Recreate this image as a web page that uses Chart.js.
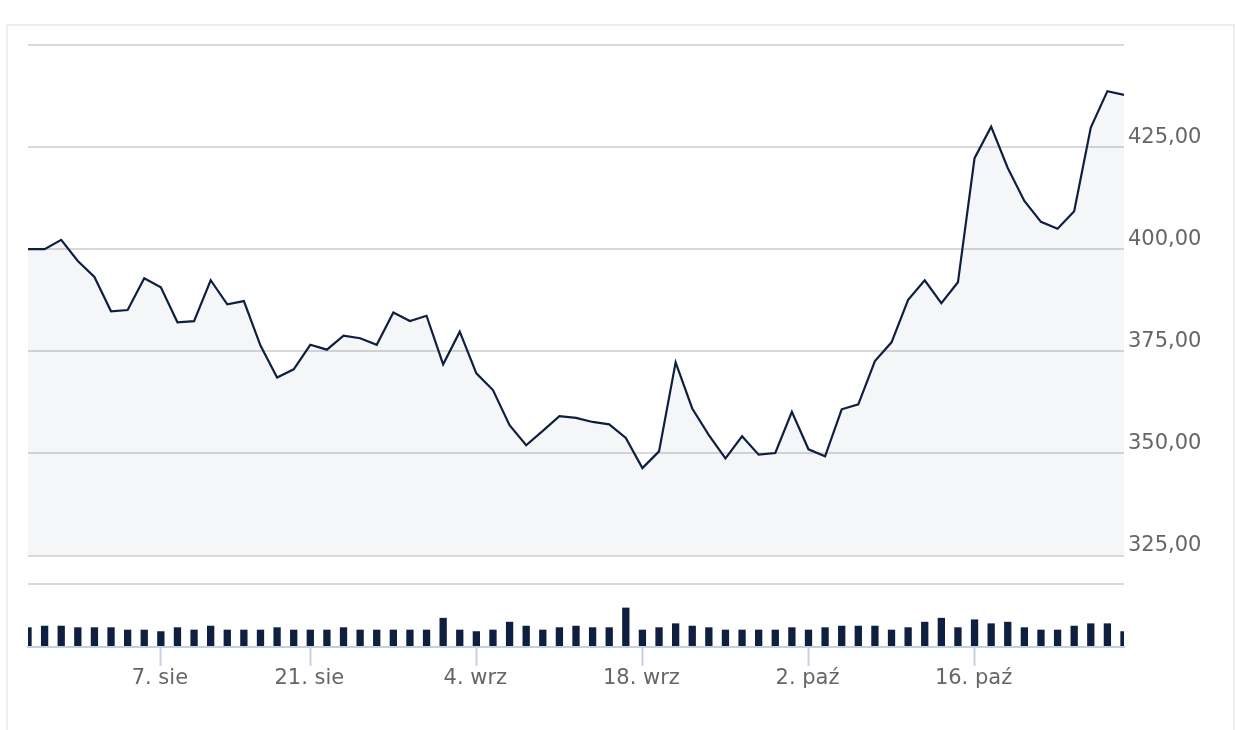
<!DOCTYPE html>
<html>
<head>
<meta charset="utf-8">
<script src="https://cdn.jsdelivr.net/npm/chart.js@4/dist/chart.umd.min.js"></script>
<style>
html,body{margin:0;padding:0;background:#fff;width:1236px;height:730px;overflow:hidden;}
#frame{position:absolute;left:6px;top:24px;width:1225px;height:720px;border:2px solid #eeeeee;}
#pw{position:absolute;left:0;top:0;width:1236px;height:570px;}
#vw{position:absolute;left:0;top:570px;width:1236px;height:160px;}
</style>
</head>
<body>
<div id="frame"></div>
<div id="pw"><canvas id="price"></canvas></div>
<div id="vw"><canvas id="vol"></canvas></div>
<script>
const dates = [
  '2023-07-26','2023-07-27','2023-07-28','2023-07-31',
  '2023-08-01','2023-08-02','2023-08-03','2023-08-04',
  '2023-08-07','2023-08-08','2023-08-09','2023-08-10','2023-08-11',
  '2023-08-14','2023-08-16','2023-08-17','2023-08-18',
  '2023-08-21','2023-08-22','2023-08-23','2023-08-24','2023-08-25',
  '2023-08-28','2023-08-29','2023-08-30','2023-08-31','2023-09-01',
  '2023-09-04','2023-09-05','2023-09-06','2023-09-07','2023-09-08',
  '2023-09-11','2023-09-12','2023-09-13','2023-09-14','2023-09-15',
  '2023-09-18','2023-09-19','2023-09-20','2023-09-21','2023-09-22',
  '2023-09-25','2023-09-26','2023-09-27','2023-09-28','2023-09-29',
  '2023-10-02','2023-10-03','2023-10-04','2023-10-05','2023-10-06',
  '2023-10-09','2023-10-10','2023-10-11','2023-10-12','2023-10-13',
  '2023-10-16','2023-10-17','2023-10-18','2023-10-19','2023-10-20',
  '2023-10-23','2023-10-24','2023-10-25','2023-10-26','2023-10-27'
];
const prices = [
  400.0, 400.0, 402.3, 397.1, 393.2, 384.8, 385.1, 392.9, 390.7, 382.1,
  382.4, 392.4, 386.5, 387.3, 376.4, 368.6, 370.6, 376.6, 375.4, 378.8,
  378.2, 376.6, 384.5, 382.4, 383.7, 371.8, 379.8, 369.6, 365.5, 356.9,
  352.0, 355.5, 359.1, 358.7, 357.7, 357.1, 353.8, 346.4, 350.5, 372.3,
  361.0, 354.5, 348.8, 354.2, 349.7, 350.1, 360.2, 351.0, 349.3, 360.8,
  362.0, 372.6, 377.2, 387.6, 392.4, 386.8, 391.9, 422.3, 430.0, 419.9,
  411.8, 406.7, 405.0, 409.3, 429.8, 438.7, 437.8
];
const volumes = [
  25, 27, 27, 25, 25, 25, 22, 22, 20, 25,
  22, 27, 22, 22, 22, 25, 22, 22, 22, 25,
  22, 22, 22, 22, 22, 37, 22, 20, 22, 32,
  27, 22, 25, 27, 25, 25, 50, 22, 25, 30,
  27, 25, 22, 22, 22, 22, 25, 22, 25, 27,
  27, 27, 22, 25, 32, 37, 25, 35, 30, 32,
  25, 22, 22, 27, 30, 30, 20
];
const tickDates = ['2023-08-07','2023-08-21','2023-09-04','2023-09-18','2023-10-02','2023-10-16'];
const tickTexts = ['7. sie','21. sie','4. wrz','18. wrz','2. paź','16. paź'];
const priceMin = 325, priceMax = 450, priceStep = 25;
const volMax = 80;

const NAVY = '#0e1f40';
const GRID = '#d9d9d9';
const AXIS = '#c4cfe2';
const TEXT = '#666666';
const FONT = {family: "'DejaVu Sans', sans-serif", size: 21, lineHeight: 1};

function labelFor(i) {
  const k = tickDates.indexOf(dates[i]);
  return k >= 0 ? tickTexts[k] : '';
}

new Chart(document.getElementById('price'), {
  type: 'line',
  data: {
    labels: dates,
    datasets: [{
      data: prices,
      borderColor: NAVY,
      borderWidth: 2.2,
      pointRadius: 0,
      pointHoverRadius: 0,
      tension: 0,
      fill: 'start',
      backgroundColor: 'rgba(20,50,100,0.045)'
    }]
  },
  options: {
    responsive: true,
    maintainAspectRatio: false,
    animation: false,
    layout: {padding: {left: 28, top: 45, right: 0, bottom: 13}},
    plugins: {legend: {display: false}, tooltip: {enabled: false}},
    scales: {
      x: {type: 'category', display: false, offset: false},
      y: {
        position: 'right',
        min: priceMin, max: priceMax,
        border: {display: false},
        grid: {color: GRID, lineWidth: 2, drawTicks: false},
        ticks: {
          stepSize: priceStep,
          padding: 4,
          labelOffset: -10,
          color: TEXT,
          font: FONT,
          callback: v => v === priceMax ? '' : Number(v).toFixed(2).replace('.', ',')
        },
        afterFit: s => { s.width = 112; }
      }
    }
  }
});

new Chart(document.getElementById('vol'), {
  type: 'bar',
  data: {
    labels: dates,
    datasets: [{
      data: volumes,
      backgroundColor: NAVY,
      barPercentage: 0.44,
      categoryPercentage: 1,
      clip: 0
    }]
  },
  options: {
    responsive: true,
    maintainAspectRatio: false,
    animation: false,
    layout: {padding: {left: 28, top: 14, right: 0, bottom: 0}},
    plugins: {legend: {display: false}, tooltip: {enabled: false}},
    scales: {
      x: {
        type: 'category',
        offset: false,
        border: {display: true, color: AXIS, width: 2},
        grid: {
          offset: false,
          drawOnChartArea: false,
          drawTicks: true,
          tickLength: 19,
          tickWidth: 2,
          tickColor: ctx => labelFor(ctx.index) ? AXIS : 'rgba(0,0,0,0)'
        },
        ticks: {
          autoSkip: false,
          maxRotation: 0,
          minRotation: 0,
          padding: 2,
          labelOffset: -1,
          color: TEXT,
          font: FONT,
          callback: (v, i) => labelFor(i)
        },
        afterFit: s => { s.height = 83; }
      },
      y: {
        position: 'right',
        min: 0, max: volMax,
        border: {display: false},
        grid: {
          color: ctx => ctx.tick && ctx.tick.value === 0 ? 'rgba(0,0,0,0)' : GRID,
          lineWidth: 2,
          drawTicks: false
        },
        ticks: {display: false, stepSize: volMax},
        afterFit: s => { s.width = 112; }
      }
    }
  }
});
</script>
</body>
</html>
